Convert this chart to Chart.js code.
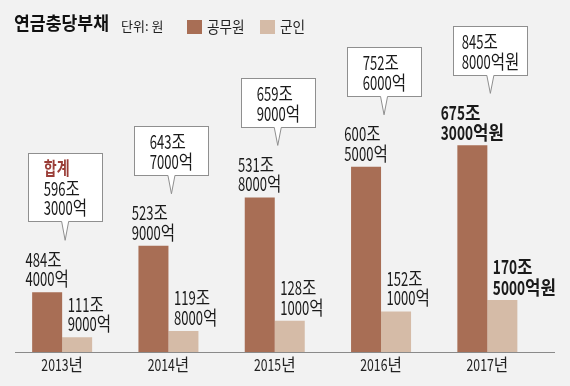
<!DOCTYPE html>
<html>
<head>
<meta charset="utf-8">
<script src="https://cdn.jsdelivr.net/npm/chart.js@4/dist/chart.umd.min.js"></script>
<style>
  body { margin: 0; background: #f2f2f2; }
  canvas { display: block; }
</style>
</head>
<body>
<canvas id="myChart" width="570" height="386"></canvas>
<script>
var years = ["2013년", "2014년", "2015년", "2016년", "2017년"];
// 단위: 조원
var gongmu = [484.4, 523.9, 531.8, 600.5, 675.3];
var gunin = [111.9, 119.8, 128.1, 152.1, 170.5];
var total = [596.3, 643.7, 659.9, 752.6, 845.8];
// bar lengths as drawn in the graphic (it is not to scale), read in 조원
var gongmuBar = [195, 347, 505, 605, 675];
var guninBar = [48, 69, 102, 132, 170];

var FONT = '"Noto Sans CJK KR", sans-serif';

function joEok(v, last) {
  var j = Math.floor(v);
  var eok = Math.round((v - j) * 10000);
  return [j + "조", eok + "억" + (last ? "원" : "")];
}

function runs(text) {
  return text.match(/[\x00-\x7f]+|[^\x00-\x7f]+/g) || [];
}

function textWidth(ctx, text, st) {
  ctx.font = st.font;
  var w = 0;
  runs(text).forEach(function (r) {
    var s = /^[\x00-\x7f]/.test(r) ? st.sd : st.sk;
    w += ctx.measureText(r).width * s;
  });
  return w;
}

function drawText(ctx, text, x, y, st, color) {
  ctx.font = st.font;
  ctx.fillStyle = color || "#1a1a1a";
  ctx.textBaseline = "middle";
  ctx.textAlign = "left";
  runs(text).forEach(function (r) {
    var s = /^[\x00-\x7f]/.test(r) ? st.sd : st.sk;
    ctx.save();
    ctx.translate(x, y);
    ctx.scale(s, 1);
    ctx.fillText(r, 0, 0);
    ctx.restore();
    x += ctx.measureText(r).width * s;
  });
}

var normal = { font: "19.5px " + FONT, sd: 0.67, sk: 0.8 };
var bold = { font: "bold 19.5px " + FONT, sd: 0.7, sk: 0.86 };
var redSt = { font: "bold 18px " + FONT, sd: 0.8, sk: 0.78 };
var tick = { font: "17px " + FONT, sd: 0.72, sk: 0.92 };
var titleSt = { font: "bold 18.5px " + FONT, sd: 1, sk: 0.93 };
var unitSt = { font: "13px " + FONT, sd: 1, sk: 1 };
var legendSt = { font: "15.5px " + FONT, sd: 0.9, sk: 0.88 };

var decor = {
  id: "decor",
  beforeDraw: function (chart) {
    var ctx = chart.ctx;
    ctx.save();
    ctx.fillStyle = "#f2f2f2";
    ctx.fillRect(0, 0, chart.width, chart.height);
    ctx.restore();
  },
  afterDatasetsDraw: function (chart) {
    var ctx = chart.ctx;
    var m0 = chart.getDatasetMeta(0).data;
    var m1 = chart.getDatasetMeta(1).data;
    var base = chart.chartArea.bottom;
    var n = years.length;

    // axis line
    ctx.save();
    ctx.strokeStyle = "#8a8a8a";
    ctx.lineWidth = 1;
    ctx.beginPath();
    ctx.moveTo(15, base + 0.5);
    ctx.lineTo(555, base + 0.5);
    ctx.stroke();

    for (var i = 0; i < n; i++) {
      var b0 = m0[i], b1 = m1[i];
      var last = i === n - 1;
      var st = last ? bold : normal;
      var gap = last ? 20.5 : 19.5;

      // year ticks
      var cx = b0.x + b0.width / 2;
      var tw = textWidth(ctx, years[i], tick);
      drawText(ctx, years[i], cx - tw / 2, 365, tick, "#222");

      // 공무원 label, centered on bar
      var l0 = joEok(gongmu[i], last);
      var w0 = Math.max(textWidth(ctx, l0[0], st), textWidth(ctx, l0[1], st));
      drawText(ctx, l0[0], b0.x - w0 / 2, b0.y - 33, st);
      drawText(ctx, l0[1], b0.x - w0 / 2, b0.y - 33 + gap, st);

      // 군인 label, from bar's left edge
      var l1 = joEok(gunin[i], last);
      var x1 = b1.x - b1.width / 2 + 5.5;
      drawText(ctx, l1[0], x1, b1.y - 33, st);
      drawText(ctx, l1[1], x1, b1.y - 33 + gap, st);

      // callout with total
      var lines = joEok(total[i], last);
      if (i === 0) lines.unshift("합계");
      var tipX = b0.x + b0.width / 2 + 3;
      var tipY = b0.y - 52;
      var bw = 74;
      var bh = 29 + (lines.length - 1) * 19.7;
      var bx = Math.round(tipX - 37) + 0.5;
      var by = Math.round(tipY - 19 - bh) + 0.5;
      var bb = by + Math.round(bh);
      ctx.fillStyle = "#fff";
      ctx.strokeStyle = "#8f8f8f";
      ctx.fillRect(bx, by, bw, bb - by);
      ctx.strokeRect(bx, by, bw, bb - by);
      ctx.beginPath();
      ctx.moveTo(tipX - 3.5, bb - 0.5);
      ctx.lineTo(tipX, tipY);
      ctx.lineTo(tipX + 3.5, bb - 0.5);
      ctx.closePath();
      ctx.fill();
      ctx.beginPath();
      ctx.moveTo(tipX - 3.5, bb);
      ctx.lineTo(tipX, tipY);
      ctx.lineTo(tipX + 3.5, bb);
      ctx.stroke();
      var mw = 0;
      lines.forEach(function (t, k) {
        var s = (i === 0 && k === 0) ? redSt : normal;
        mw = Math.max(mw, textWidth(ctx, t, s));
      });
      var tx = bx + bw / 2 - mw / 2;
      lines.forEach(function (t, k) {
        if (i === 0 && k === 0) {
          drawText(ctx, t, tx, by + 15 + k * 19.7, redSt, "#9a3d37");
        } else {
          drawText(ctx, t, tx, by + 15 + k * 19.7, normal);
        }
      });
    }

    // title + legend
    drawText(ctx, "연금충당부채", 14, 23, titleSt, "#111");
    drawText(ctx, "단위: 원", 121, 26, unitSt, "#222");
    var lx = [187, 260], tx2 = [207, 280];
    chart.data.datasets.forEach(function (ds, k) {
      ctx.fillStyle = ds.backgroundColor;
      ctx.fillRect(lx[k], 20, 15, 14);
      drawText(ctx, ds.label, tx2[k], 27, legendSt, "#222");
    });
    ctx.restore();
  }
};

var chart = document.getElementById("myChart").getContext("2d");
var myChart = new Chart(chart, {
  type: "bar",
  data: {
    labels: years,
    datasets: [
      {
        label: "공무원",
        data: gongmuBar,
        backgroundColor: "#a86e55",
        categoryPercentage: 0.5644,
        barPercentage: 1,
      },
      {
        label: "군인",
        data: guninBar,
        backgroundColor: "#d5bba7",
        categoryPercentage: 0.5644,
        barPercentage: 1,
      },
    ],
  },
  options: {
    responsive: false,
    animation: false,
    devicePixelRatio: 1,
    layout: { padding: { left: 9, right: 29.5, top: 52, bottom: 34 } },
    plugins: { legend: { display: false }, tooltip: { enabled: false } },
    scales: {
      x: { display: false },
      y: { display: false, min: 0, max: 980 },
    },
  },
  plugins: [decor],
});
</script>
</body>
</html>
